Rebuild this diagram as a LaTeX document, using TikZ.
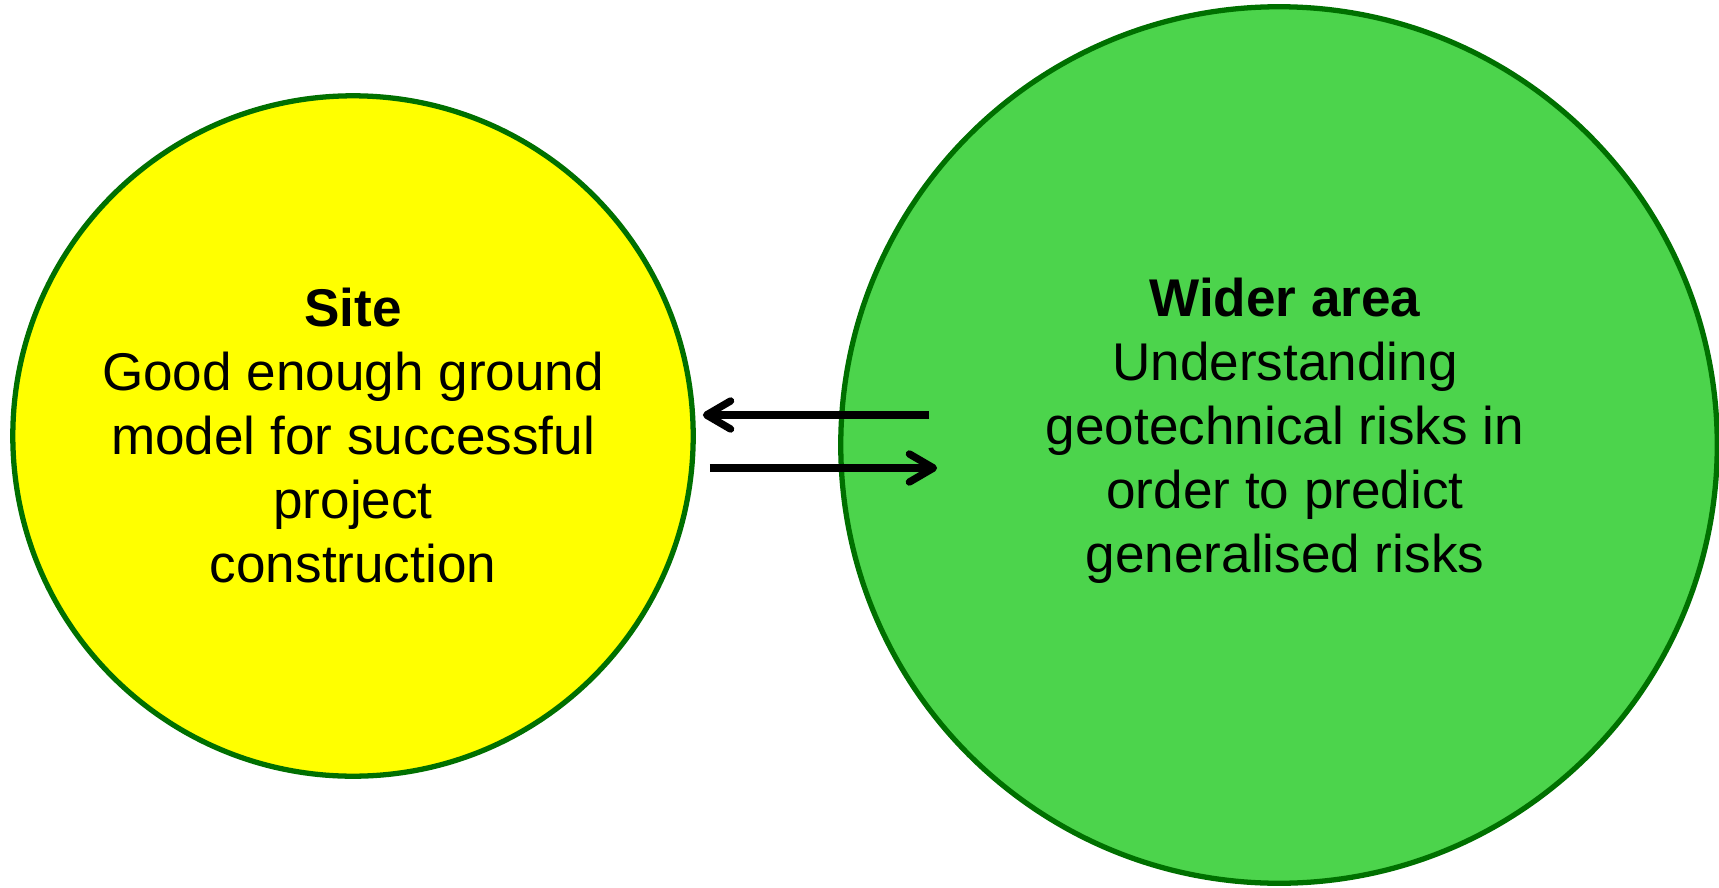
\documentclass[tikz,border=0pt]{standalone}
\usepackage{fontspec}
\setmainfont{Liberation Sans}
\usetikzlibrary{arrows.meta}
\definecolor{siteyellow}{HTML}{FFFF00}
\definecolor{areagreen}{HTML}{4CD44C}
\definecolor{rimgreen}{HTML}{007000}
\tikzstyle{zone} = [circle, draw=rimgreen, line width=1.5pt, inner sep=0pt]
\tikzstyle{arrow} = [line width=2.1pt, -{Straight Barb[length=0.24cm,width=0.28cm,round]}]
\tikzstyle{blurb} = [align=center, font=\fontsize{15.1}{18.2}\selectfont]

\begin{document}
\begin{tikzpicture}[x=0.01cm,y=0.01cm]
    \useasboundingbox (0,0) rectangle (1719,887);
    \node[zone, fill=siteyellow, minimum size=6.8cm] (site) at (353,451) {};
    \node[zone, fill=areagreen, minimum size=8.76cm] (wider) at (1279,442) {};
    \node[blurb] (siteText) at (site.center)
        {\textbf{Site}\\Good enough ground\\model for successful\\project\\construction};
    \node[blurb] (widerText) at ([shift={(6,14)}]wider.center)
        {\textbf{Wider area}\\Understanding\\geotechnical risks in\\order to predict\\generalised risks};
    \draw[arrow] ([shift={(91,30)}]wider.west) -- ([shift={(7,21)}]site.east);
    \draw[arrow] ([shift={(14,-32)}]site.east) -- ([shift={(99,-23)}]wider.west);
\end{tikzpicture}
\end{document}
